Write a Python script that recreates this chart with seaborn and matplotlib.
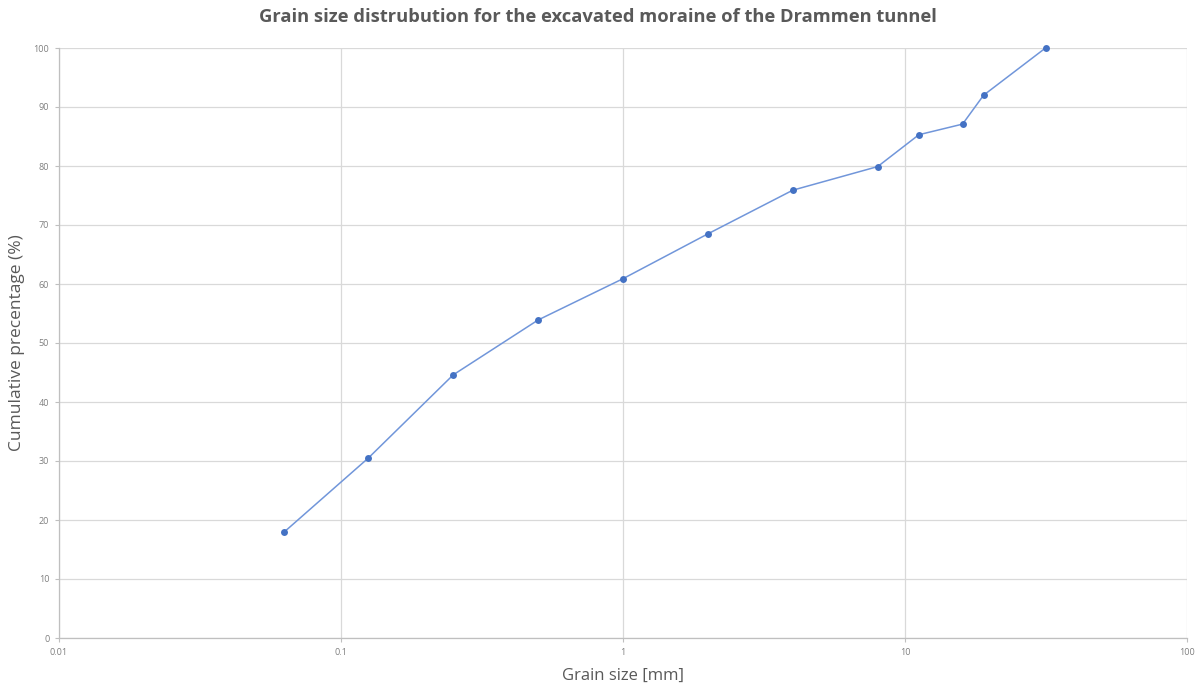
import matplotlib
matplotlib.use("Agg")
import matplotlib.pyplot as plt
import matplotlib.ticker as mticker
import seaborn as sns
import pandas as pd

grain_size_mm = [0.063, 0.125, 0.25, 0.5, 1, 2, 4, 8, 11.2, 16, 19, 31.5]
cumulative_pct = [18.0, 30.5, 44.6, 53.9, 60.9, 68.5, 75.9, 79.9, 85.3, 87.1, 92.0, 100.0]
x_ticks = [0.01, 0.1, 1, 10, 100]
x_tick_labels = ["0.01", "0.1", "1", "10", "100"]
y_ticks = list(range(0, 101, 10))

df = pd.DataFrame({"size": grain_size_mm, "pct": cumulative_pct})

sns.set_style("white")
plt.rcParams['font.family'] = ['Open Sans', 'DejaVu Sans']

fig = plt.figure(figsize=(12, 6.86), dpi=100)
ax = fig.add_axes([59/1200, 1-638/686, (1187-59)/1200, (638-48)/686])

sns.lineplot(data=df, x="size", y="pct", ax=ax, color="#4472C4", linewidth=1.1,
             marker="o", markersize=5, markeredgewidth=0, alpha=1.0)
for l in ax.lines:
    l.set_color("#7196DA")
    l.set_markerfacecolor("#4472C4")
    l.set_markeredgecolor("#4472C4")
    l.set_clip_on(False)

ax.set_xscale("log")
ax.set_xlim(0.01, 100)
ax.set_ylim(0, 100)
ax.xaxis.set_major_locator(mticker.FixedLocator(x_ticks))
ax.xaxis.set_major_formatter(mticker.FixedFormatter(x_tick_labels))
ax.xaxis.set_minor_locator(mticker.NullLocator())
ax.set_yticks(y_ticks)

ax.grid(True, color="#D9D9D9", linewidth=0.9)
ax.set_axisbelow(True)
for s in ["top", "right"]:
    ax.spines[s].set_visible(False)
for s in ["left", "bottom"]:
    ax.spines[s].set_color("#BFBFBF")
    ax.spines[s].set_linewidth(0.9)
ax.tick_params(axis="both", which="major", length=3, width=0.8, color="#BFBFBF",
               labelsize=6.5, labelcolor="#7F7F7F", pad=4, direction="out",
               bottom=True, left=True)

ax.set_xlabel("")
ax.set_ylabel("")
fig.text(623/1200, 1-676/686, "Grain size [mm]", ha="center", va="center",
         fontsize=12, color="#595959")
fig.text(17/1200, 1-343/686, "Cumulative precentage (%)", ha="center", va="center",
         rotation=90, fontsize=12.5, color="#595959")
fig.text(0.498, 1-17/686, "Grain size distrubution for the excavated moraine of the Drammen tunnel",
         ha="center", va="center", fontsize=13.2, fontweight="bold", color="#595959")

fig.savefig("out.png", dpi=100, facecolor="white")
